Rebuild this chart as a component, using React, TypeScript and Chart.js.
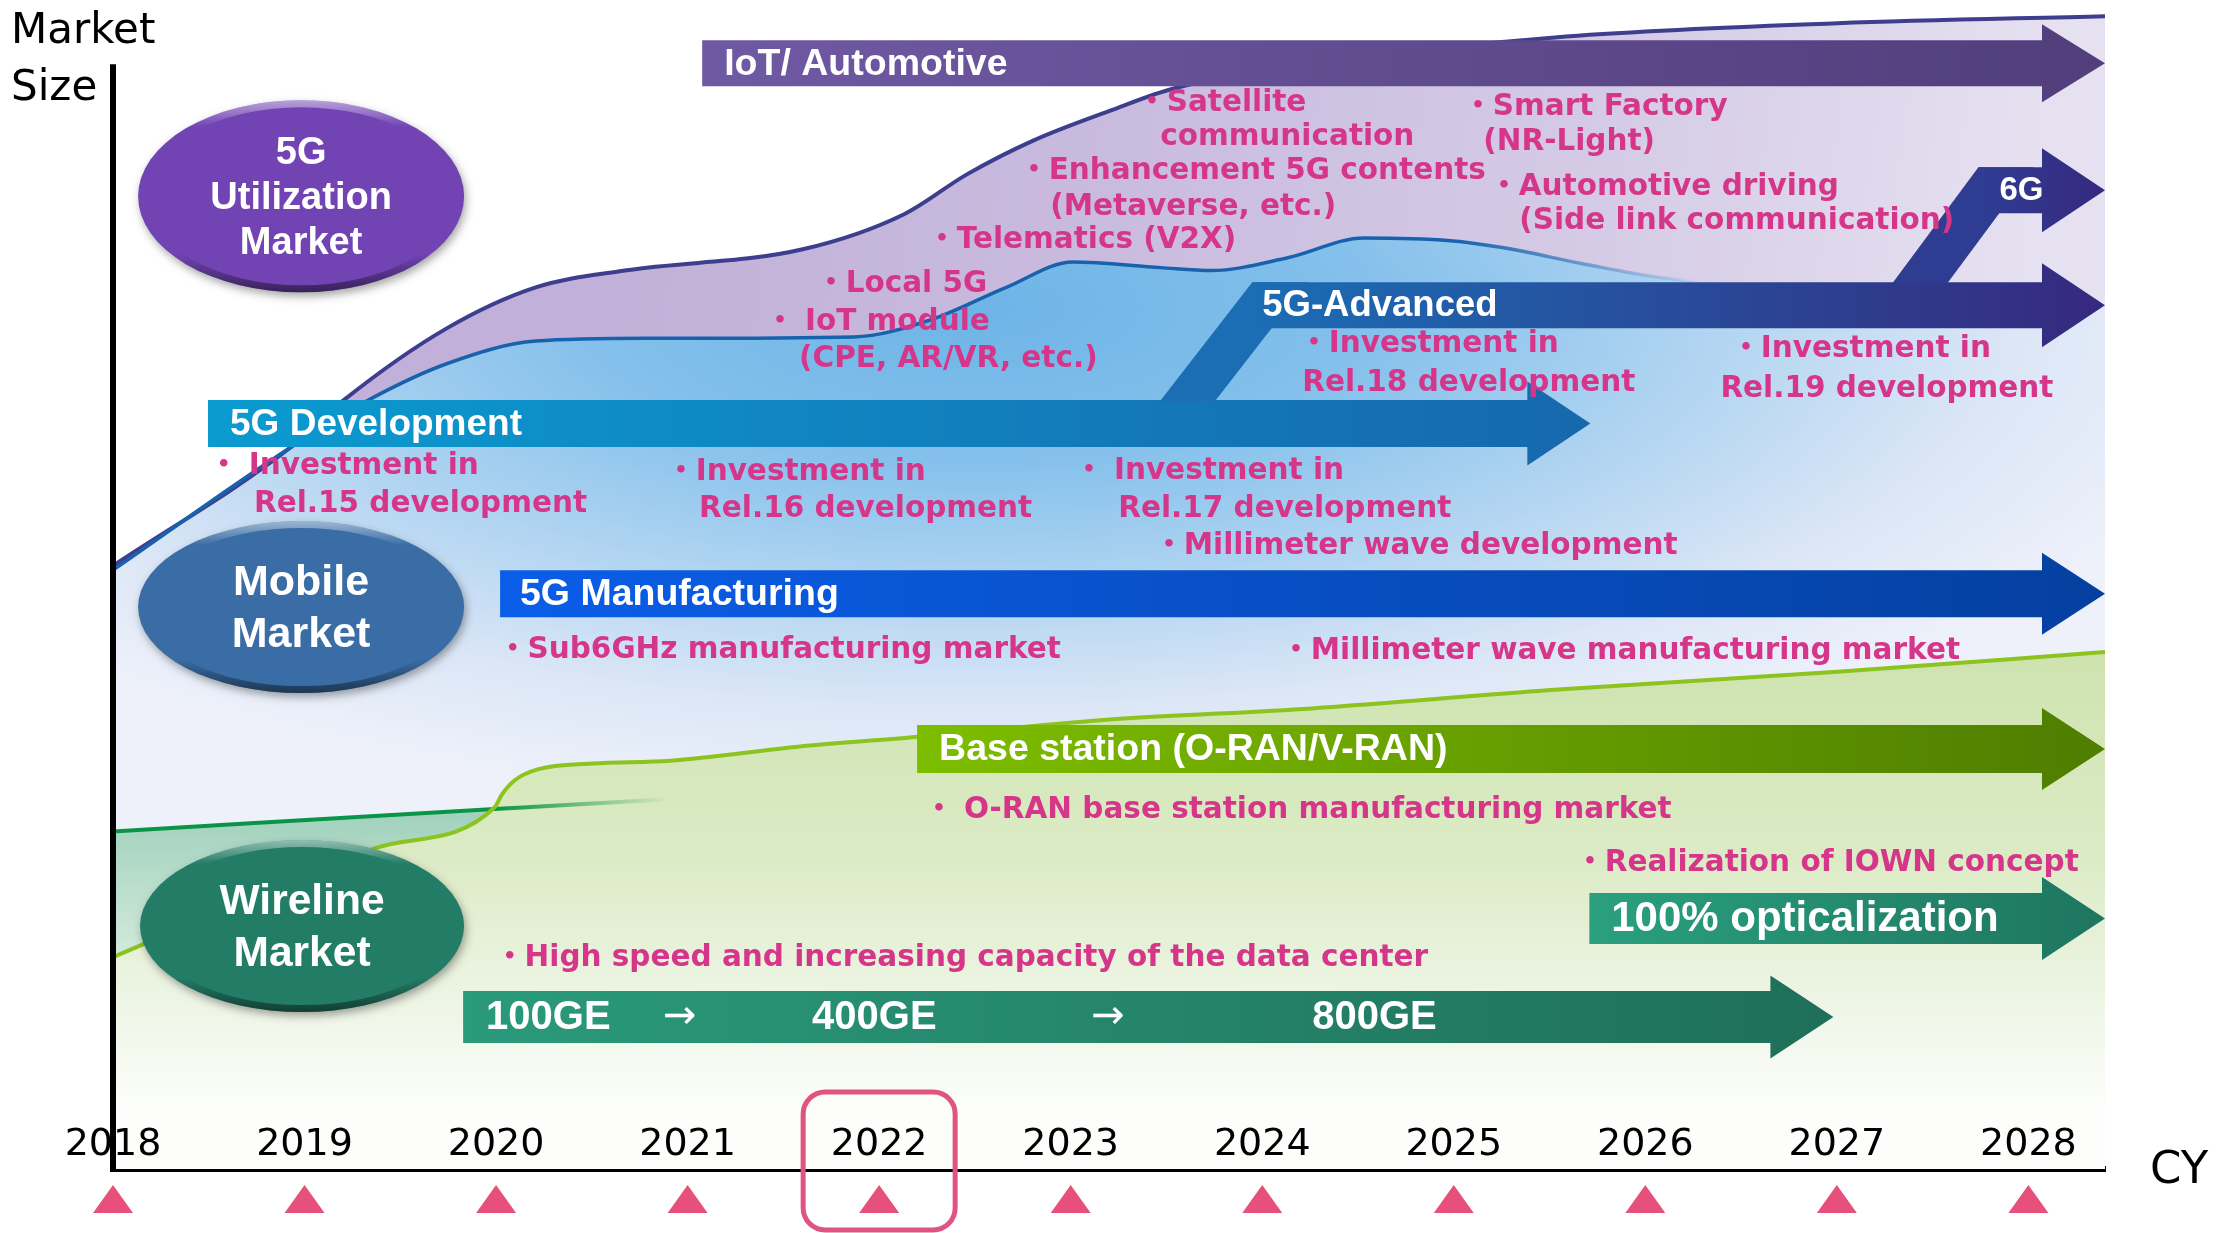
import React, { useEffect, useRef } from "react";
import { Chart, registerables } from "chart.js";

Chart.register(...registerables);

// ---------- axis categories ----------
const YEARS = [2018, 2019, 2020, 2021, 2022, 2023, 2024, 2025, 2026, 2027, 2028];
const HIGHLIGHT_YEAR = 2022;
const X_MIN = 2018;
const X_MAX = 2028.4;
const Y_MIN = 0;
const Y_MAX = 105;
const Y_AXIS_TOP = 100;

// ---------- market size curves (year, relative size) ----------
const utilizationYears = [2018.0, 2018.93, 2019.203, 2019.742, 2020.207, 2020.672, 2021.601, 2022.133, 2022.458, 2022.804, 2023.203, 2023.542, 2024.421, 2025.528, 2027.004, 2028.4];
const utilizationSize = [54.6, 65.35, 69.57, 76.09, 79.8, 81.33, 83.25, 86.45, 90.03, 93.09, 95.78, 97.83, 100.38, 102.43, 103.71, 104.35];

const mobileYears = [2018.0, 2018.93, 2019.343, 2019.742, 2020.207, 2020.804, 2021.867, 2022.266, 2022.664, 2023.011, 2023.469, 2023.734, 2024.133, 2024.531, 2024.982, 2025.262, 2025.668, 2026.081, 2027.004, 2028.4];
const mobileSize = [54.22, 65.35, 69.69, 72.89, 74.94, 75.19, 75.32, 76.85, 79.8, 82.1, 81.59, 81.33, 82.48, 84.27, 84.02, 83.38, 81.97, 80.69, 79.41, 78.64];

const wirelineYears = [2018.0, 2020.015, 2020.804, 2021.247];
const wirelineSize = [30.56, 32.61, 33.38, 33.76];

const baseStationYears = [2018.0, 2019.365, 2019.993, 2020.03, 2020.096, 2020.221, 2020.502, 2020.908, 2021.587, 2022.207, 2023.188, 2024.258, 2025.506, 2027.004, 2028.4];
const baseStationSize = [19.18, 29.03, 32.74, 33.89, 35.17, 36.19, 36.7, 36.96, 38.24, 39.13, 40.66, 41.69, 43.35, 45.01, 46.8];

// ---------- roadmap arrows (year span, size level) ----------
const ARROWS = [
  { id: "iot", start: 2021.076, end: 2028.4, level: 100.09, labels: [{ text: "IoT/ Automotive", year: 2021.191 }] },
  { id: "dev", start: 2018.496, end: 2025.713, level: 67.47, labels: [{ text: "5G Development", year: 2018.611 }] },
  { id: "adv", start: 2023.948, end: 2028.4, level: 78.19, labels: [{ text: "5G-Advanced", year: 2024.0 }] },
  { id: "6g", start: 2027.739, end: 2028.4, level: 88.6, labels: [{ text: "6G", year: 2027.849 }] },
  { id: "mfg", start: 2020.021, end: 2028.4, level: 52.08, labels: [{ text: "5G Manufacturing", year: 2020.125 }] },
  { id: "ran", start: 2022.198, end: 2028.4, level: 38.01, labels: [{ text: "Base station (O-RAN/V-RAN)", year: 2022.313 }] },
  {
    id: "ge", start: 2019.828, end: 2026.982, level: 13.76,
    labels: [
      { text: "100GE", year: 2019.948 },
      { text: "→", year: 2020.872 },
      { text: "400GE", year: 2021.65 },
      { text: "→", year: 2023.107 },
      { text: "800GE", year: 2024.261 },
    ],
  },
  { id: "opt", start: 2025.708, end: 2028.4, level: 22.67, labels: [{ text: "100% opticalization", year: 2025.822 }] },
];

const CONNECTORS = [
  { from: "dev", to: "adv", year: 2023.467 },
  { from: "adv", to: "6g", year: 2027.29 },
];

// ---------- market bubbles ----------
const MARKETS = [
  { lines: ["5G", "Utilization", "Market"], year: 2018.982, level: 88.05 },
  { lines: ["Mobile", "Market"], year: 2018.982, level: 50.86 },
  { lines: ["Wireline", "Market"], year: 2018.987, level: 21.99 },
];

// ---------- notes ----------
const NOTES = [
  { text: "・Satellite", year: 2023.347, level: 96.47 },
  { text: "communication", year: 2023.467, level: 93.39 },
  { text: "・Enhancement 5G contents", year: 2022.731, level: 90.32 },
  { text: "(Metaverse, etc.)", year: 2022.893, level: 87.06 },
  { text: "・Telematics (V2X)", year: 2022.251, level: 84.07 },
  { text: "・Local 5G", year: 2021.671, level: 80.09 },
  { text: "・ IoT module", year: 2021.405, level: 76.65 },
  { text: "(CPE, AR/VR, etc.)", year: 2021.582, level: 73.3 },
  { text: "・Smart Factory", year: 2025.05, level: 96.11 },
  { text: "(NR-Light)", year: 2025.154, level: 92.94 },
  { text: "・Automotive driving", year: 2025.185, level: 88.87 },
  { text: "(Side link communication)", year: 2025.342, level: 85.79 },
  { text: "・Investment in", year: 2024.193, level: 74.66 },
  { text: "Rel.18 development", year: 2024.209, level: 71.13 },
  { text: "・Investment in", year: 2026.449, level: 74.21 },
  { text: "Rel.19 development", year: 2026.392, level: 70.59 },
  { text: "・ Investment in", year: 2018.501, level: 63.62 },
  { text: "Rel.15 development", year: 2018.736, level: 60.18 },
  { text: "・Investment in", year: 2020.888, level: 63.08 },
  { text: "Rel.16 development", year: 2021.06, level: 59.73 },
  { text: "・ Investment in", year: 2023.018, level: 63.17 },
  { text: "Rel.17 development", year: 2023.248, level: 59.73 },
  { text: "・Millimeter wave development", year: 2023.436, level: 56.38 },
  { text: "・Sub6GHz manufacturing market", year: 2020.01, level: 46.97 },
  { text: "・Millimeter wave manufacturing market", year: 2024.099, level: 46.88 },
  { text: "・ O-RAN base station manufacturing market", year: 2022.235, level: 32.49 },
  { text: "・Realization of IOWN concept", year: 2025.634, level: 27.69 },
  { text: "・High speed and increasing capacity of the data center", year: 2019.995, level: 19.1 },
];

// ---------- styles ----------
const ARROW_STYLE: Record<string, { c0: string; c1: string; body: number; head: number; font: number }> = {
  iot: { c0: "#7059a3", c1: "#513e7b", body: 46, head: 78, font: 37.5 },
  dev: { c0: "#0a9bd0", c1: "#1768ad", body: 47, head: 84, font: 37 },
  adv: { c0: "#1b6db4", c1: "#36297f", body: 46, head: 84, font: 36.5 },
  "6g": { c0: "#2e3d92", c1: "#36287f", body: 46, head: 84, font: 33 },
  mfg: { c0: "#0b5de8", c1: "#0540a0", body: 47, head: 82, font: 37.5 },
  ran: { c0: "#7dbd00", c1: "#4f7d00", body: 48, head: 82, font: 37.5 },
  ge: { c0: "#2a9a7b", c1: "#1f6f5a", body: 52, head: 83, font: 40 },
  opt: { c0: "#2aa07f", c1: "#1e7560", body: 51, head: 83, font: 42 },
};
const HEAD_LEN = 63;
const CONNECTOR_W = 55;
const MARKET_STYLE = [
  { color: "#7143b3", rx: 163, ry: 96, font: 38, gap: 45 },
  { color: "#3a6da5", rx: 163, ry: 86, font: 43, gap: 52 },
  { color: "#237c66", rx: 162, ry: 86, font: 42.5, gap: 52 },
];
const PINK = "#d6368a";
const NOTE_FONT = "bold 29.5px 'DejaVu Sans', 'Noto Sans CJK JP', sans-serif";
const LABEL_FAMILY = "'Liberation Sans', 'DejaVu Sans', sans-serif";
const AXIS_FAMILY = "'DejaVu Sans', sans-serif";
const ARROW_GLYPH_FONT = "40px 'DejaVu Sans', sans-serif";

function pts(xs: number[], ys: number[]) {
  return xs.map((x, i) => ({ x, y: ys[i] }));
}

function helpers(chart: any) {
  const X = (v: number) => chart.scales.x.getPixelForValue(v);
  const Y = (v: number) => chart.scales.y.getPixelForValue(v);
  return { X, Y };
}

function ellipticalPattern(chart: any, cx: number, cy: number, rx: number, ry: number, stops: [number, string][]) {
  const w = chart.width;
  const h = chart.height;
  const off = document.createElement("canvas");
  off.width = w;
  off.height = h;
  const o = off.getContext("2d")!;
  const k = ry / rx;
  o.setTransform(1, 0, 0, k, 0, cy * (1 - k));
  const g = o.createRadialGradient(cx, cy, 0, cx, cy, rx);
  stops.forEach(([t, c]) => g.addColorStop(t, c));
  o.fillStyle = g;
  o.fillRect(-10, -20000, w + 20, 40000);
  return chart.ctx.createPattern(off, "no-repeat");
}

function purpleFill(c: any) {
  const chart = c.chart;
  if (!chart.chartArea) return "#c8bade";
  const { X, Y } = helpers(chart);
  const g = chart.ctx.createLinearGradient(X(2020.5), Y(83), X(2027.85), Y(65));
  g.addColorStop(0, "#c1b0d9");
  g.addColorStop(0.35, "#c9bbde");
  g.addColorStop(0.7, "#d5cbe6");
  g.addColorStop(1, "#e6e1f1");
  return g;
}

function blueFill(c: any) {
  const chart = c.chart;
  if (!chart.chartArea) return "#9ccbee";
  const { X, Y } = helpers(chart);
  return ellipticalPattern(chart, X(2022.5), Y(78), 1300, 500, [
    [0, "#6db4e7"],
    [0.3, "#84c0eb"],
    [0.55, "#aed3f1"],
    [0.8, "#dbe6f6"],
    [1, "#eef1fa"],
  ]);
}

function blueLine(c: any) {
  const chart = c.chart;
  if (!chart.chartArea) return "#1862ad";
  const { X } = helpers(chart);
  const g = chart.ctx.createLinearGradient(X(2025.0), 0, X(2026.3), 0);
  g.addColorStop(0, "rgba(24,98,173,1)");
  g.addColorStop(1, "rgba(24,98,173,0)");
  return g;
}

function tealFill(c: any) {
  const chart = c.chart;
  if (!chart.chartArea) return "#b5dccb";
  const { Y } = helpers(chart);
  const g = chart.ctx.createLinearGradient(0, Y(33), 0, Y(19));
  g.addColorStop(0, "#9ed0bb");
  g.addColorStop(1, "#d3eadc");
  return g;
}

function darkGreenLine(c: any) {
  const chart = c.chart;
  if (!chart.chartArea) return "#0a9447";
  const { X } = helpers(chart);
  const g = chart.ctx.createLinearGradient(X(2020.0), 0, X(2020.9), 0);
  g.addColorStop(0, "rgba(10,148,71,1)");
  g.addColorStop(1, "rgba(10,148,71,0)");
  return g;
}

function limeFill(c: any) {
  const chart = c.chart;
  if (!chart.chartArea) return "#dcebc6";
  const { Y } = helpers(chart);
  const g = chart.ctx.createLinearGradient(0, Y(47), 0, Y(5));
  g.addColorStop(0, "#cde3ae");
  g.addColorStop(0.45, "#dcebc6");
  g.addColorStop(0.75, "#edf5e4");
  g.addColorStop(1, "#fdfefc");
  return g;
}

function drawArrowShape(ctx: CanvasRenderingContext2D, x0: number, xt: number, yc: number, s: any) {
  const xh = xt - HEAD_LEN;
  const g = ctx.createLinearGradient(x0, 0, xt, 0);
  g.addColorStop(0, s.c0);
  g.addColorStop(1, s.c1);
  ctx.fillStyle = g;
  ctx.beginPath();
  ctx.moveTo(x0, yc - s.body / 2);
  ctx.lineTo(xh, yc - s.body / 2);
  ctx.lineTo(xh, yc - s.head / 2);
  ctx.lineTo(xt, yc);
  ctx.lineTo(xh, yc + s.head / 2);
  ctx.lineTo(xh, yc + s.body / 2);
  ctx.lineTo(x0, yc + s.body / 2);
  ctx.closePath();
  ctx.fill();
}

function drawBubble(ctx: CanvasRenderingContext2D, cx: number, cy: number, st: any, lines: string[]) {
  ctx.save();
  ctx.shadowColor = "rgba(0,0,0,0.35)";
  ctx.shadowBlur = 8;
  ctx.shadowOffsetX = 2;
  ctx.shadowOffsetY = 4;
  ctx.beginPath();
  ctx.ellipse(cx, cy, st.rx, st.ry, 0, 0, Math.PI * 2);
  ctx.fillStyle = st.color;
  ctx.fill();
  ctx.restore();

  ctx.save();
  ctx.beginPath();
  ctx.ellipse(cx, cy, st.rx, st.ry, 0, 0, Math.PI * 2);
  ctx.clip();
  const g = ctx.createLinearGradient(0, cy - st.ry, 0, cy + st.ry);
  g.addColorStop(0, "rgba(255,255,255,0.5)");
  g.addColorStop(0.14, "rgba(255,255,255,0)");
  g.addColorStop(0.8, "rgba(0,0,0,0)");
  g.addColorStop(1, "rgba(0,0,0,0.5)");
  ctx.strokeStyle = g;
  ctx.lineWidth = 14;
  ctx.beginPath();
  ctx.ellipse(cx, cy, st.rx, st.ry, 0, 0, Math.PI * 2);
  ctx.stroke();
  ctx.restore();

  ctx.save();
  ctx.fillStyle = "#ffffff";
  ctx.font = `bold ${st.font}px ${LABEL_FAMILY}`;
  ctx.textAlign = "center";
  ctx.textBaseline = "middle";
  const n = lines.length;
  lines.forEach((t, i) => {
    ctx.fillText(t, cx, cy + 2 + (i - (n - 1) / 2) * st.gap);
  });
  ctx.restore();
}

const decorPlugin = {
  id: "roadmapDecor",
  afterDatasetsDraw(chart: any) {
    const ctx: CanvasRenderingContext2D = chart.ctx;
    const { X, Y } = helpers(chart);
    ctx.save();

    const geom: Record<string, any> = {};
    ARROWS.forEach((a) => {
      geom[a.id] = { x0: X(a.start), xt: X(a.end), yc: Y(a.level), s: ARROW_STYLE[a.id] };
    });

    ARROWS.forEach((a) => {
      const g = geom[a.id];
      CONNECTORS.filter((c) => c.to === a.id).forEach((c) => {
        const f = geom[c.from];
        const yb = f.yc - f.s.body / 2 + 1;
        const yt = g.yc - g.s.body / 2;
        const xb = X(c.year);
        ctx.fillStyle = g.s.c0;
        ctx.beginPath();
        ctx.moveTo(xb, yb);
        ctx.lineTo(xb + CONNECTOR_W, yb);
        ctx.lineTo(g.x0 + CONNECTOR_W, yt);
        ctx.lineTo(g.x0, yt);
        ctx.closePath();
        ctx.fill();
      });
      drawArrowShape(ctx, g.x0, g.xt, g.yc, g.s);
    });

    ctx.fillStyle = "#ffffff";
    ctx.textAlign = "left";
    ctx.textBaseline = "middle";
    ARROWS.forEach((a) => {
      const g = geom[a.id];
      a.labels.forEach((l) => {
        ctx.font = l.text === "→" ? ARROW_GLYPH_FONT : `bold ${g.s.font}px ${LABEL_FAMILY}`;
        ctx.fillText(l.text, X(l.year), g.yc + 1);
      });
    });

    MARKETS.forEach((m, i) => drawBubble(ctx, X(m.year), Y(m.level), MARKET_STYLE[i], m.lines));

    ctx.fillStyle = PINK;
    ctx.font = NOTE_FONT;
    ctx.textAlign = "left";
    ctx.textBaseline = "middle";
    NOTES.forEach((n) => ctx.fillText(n.text, X(n.year), Y(n.level)));

    ctx.restore();
  },
  afterDraw(chart: any) {
    const ctx: CanvasRenderingContext2D = chart.ctx;
    const { X, Y } = helpers(chart);
    const y0 = Y(0);
    ctx.save();

    // vertical axis
    ctx.strokeStyle = "#000";
    ctx.lineWidth = 6;
    ctx.beginPath();
    ctx.moveTo(X(X_MIN), Y(Y_AXIS_TOP));
    ctx.lineTo(X(X_MIN), y0 + 3);
    ctx.stroke();

    // year labels
    ctx.fillStyle = "#000";
    ctx.font = `38px ${AXIS_FAMILY}`;
    ctx.textAlign = "center";
    ctx.textBaseline = "alphabetic";
    YEARS.forEach((yr) => ctx.fillText(String(yr), X(yr), y0 - 14));

    // triangles
    ctx.fillStyle = "#e6507a";
    YEARS.forEach((yr) => {
      const cx = X(yr);
      ctx.beginPath();
      ctx.moveTo(cx, y0 + 16);
      ctx.lineTo(cx + 20, y0 + 44);
      ctx.lineTo(cx - 20, y0 + 44);
      ctx.closePath();
      ctx.fill();
    });

    // highlight current year
    const hx = X(HIGHLIGHT_YEAR);
    ctx.strokeStyle = "#e0557f";
    ctx.lineWidth = 5;
    ctx.beginPath();
    (ctx as any).roundRect(hx - 76, y0 - 77, 152, 138, 22);
    ctx.stroke();

    // titles
    ctx.fillStyle = "#000";
    ctx.font = `42px ${AXIS_FAMILY}`;
    ctx.textAlign = "left";
    ctx.fillText("Market", 11, Y(Y_AXIS_TOP) - 21);
    ctx.fillText("Size", 11, Y(Y_AXIS_TOP) + 36);
    ctx.font = `45px ${AXIS_FAMILY}`;
    ctx.fillText("CY", chart.chartArea.right + 45, y0 + 14);

    ctx.restore();
  },
};

export default function App() {
  const ref = useRef<HTMLCanvasElement | null>(null);

  useEffect(() => {
    document.body.style.margin = "0";
    const canvas = ref.current;
    if (!canvas) return;
    const chart = new Chart(canvas, {
      type: "line",
      data: {
        datasets: [
          {
            label: "Base station / wireline growth",
            data: pts(baseStationYears, baseStationSize),
            borderColor: "#8cc31f",
            borderWidth: 4,
            backgroundColor: limeFill,
            fill: "origin",
            order: 1,
          },
          {
            label: "Wireline",
            data: pts(wirelineYears, wirelineSize),
            borderColor: darkGreenLine,
            borderWidth: 4,
            backgroundColor: tealFill,
            fill: "origin",
            order: 2,
          },
          {
            label: "Mobile Market",
            data: pts(mobileYears, mobileSize),
            borderColor: blueLine,
            borderWidth: 3.5,
            backgroundColor: blueFill,
            fill: "origin",
            order: 3,
          },
          {
            label: "5G Utilization Market",
            data: pts(utilizationYears, utilizationSize),
            borderColor: "#3e3e8e",
            borderWidth: 4,
            backgroundColor: purpleFill,
            fill: "origin",
            order: 4,
          },
        ],
      },
      options: {
        responsive: false,
        animation: false,
        events: [],
        layout: { padding: { left: 113, right: 111, top: 9, bottom: 64 } },
        elements: {
          point: { radius: 0 },
          line: { cubicInterpolationMode: "monotone", borderJoinStyle: "round" },
        },
        plugins: {
          legend: { display: false },
          tooltip: { enabled: false },
          filler: { drawTime: "beforeDatasetsDraw" },
        },
        scales: {
          x: {
            type: "linear",
            min: X_MIN,
            max: X_MAX,
            z: 1,
            grid: { display: false, drawTicks: false },
            ticks: { display: false },
            border: { display: true, color: "#000", width: 6 },
          },
          y: {
            type: "linear",
            min: Y_MIN,
            max: Y_MAX,
            display: false,
          },
        },
      } as any,
      plugins: [decorPlugin],
    });
    return () => chart.destroy();
  }, []);

  return (
    <div style={{ width: 2216, height: 1233, background: "#ffffff", overflow: "hidden" }}>
      <canvas ref={ref} width={2216} height={1233} style={{ display: "block", width: 2216, height: 1233 }} />
    </div>
  );
}
